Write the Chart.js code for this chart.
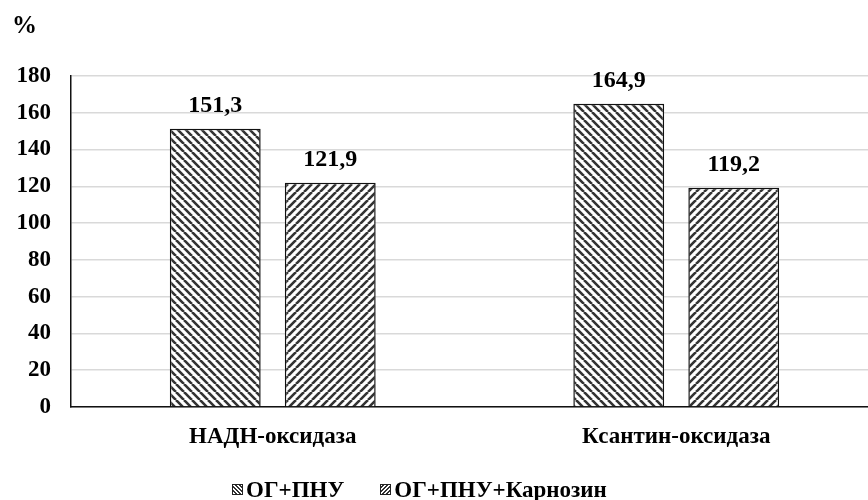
<!DOCTYPE html>
<html>
<head>
<meta charset="utf-8">
<script src="https://cdn.jsdelivr.net/npm/chart.js@4/dist/chart.umd.min.js"></script>
<style>
  html, body { margin: 0; padding: 0; background: #fff; overflow: hidden; }
  #wrap { position: relative; width: 880px; height: 500px; }
  #legend { position: absolute; left: 232px; top: 477px; font: bold 23px "Liberation Serif", serif; color: #000; white-space: nowrap; }
  #legend span.item { display: inline-block; margin-right: 36px; }
  #legend i { display: inline-block; width: 9px; height: 9px; border: 1px solid #222; margin-right: 3px; vertical-align: 2px; }
  .s1 { background: repeating-linear-gradient(45deg, #fff 0 1.5px, #333 1.5px 3px); }
  .s2 { background: repeating-linear-gradient(-45deg, #fff 0 1.5px, #333 1.5px 3px); }
</style>
</head>
<body>
<div id="wrap">
  <canvas id="chart" width="880" height="500"></canvas>
  <div id="legend"></div>
</div>
<script>
// === ДАННЫЕ ===
const categories = ['НАДН-оксидаза', 'Ксантин-оксидаза'];
const seriesNames = ['ОГ+ПНУ', 'ОГ+ПНУ+Карнозин'];
const valuesOgPnu = [151.3, 164.9];
const valuesOgPnuCarn = [121.9, 119.2];
const yTicks = [0, 20, 40, 60, 80, 100, 120, 140, 160, 180];

const FONT = '"Liberation Serif", "Times New Roman", serif';

// штриховка для столбцов
function makeHatch(dir) {
    const s = 8;
    const c = document.createElement('canvas');
    c.width = s; c.height = s;
    const g = c.getContext('2d');
    g.fillStyle = '#fff';
    g.fillRect(0, 0, s, s);
    g.strokeStyle = '#333';
    g.lineWidth = 2.6;
    g.beginPath();
    for (let x = -s; x <= s; x += s) {
        if (dir === 'down') { g.moveTo(x, 0); g.lineTo(x + s, s); }
        else { g.moveTo(x, s); g.lineTo(x + s, 0); }
    }
    g.stroke();
    return g.createPattern(c, 'repeat');
}

const valueLabels = {
    id: 'valueLabels',
    afterDatasetsDraw(chart) {
        const ctx = chart.ctx;
        ctx.save();
        ctx.fillStyle = '#000';
        ctx.font = 'bold 24px ' + FONT;
        ctx.textAlign = 'center';
        ctx.textBaseline = 'alphabetic';
        chart.data.datasets.forEach((ds, i) => {
            chart.getDatasetMeta(i).data.forEach((bar, j) => {
                ctx.fillText(ds.data[j].toFixed(1).replace('.', ','), bar.x, bar.y - 17);
            });
        });
        ctx.restore();
    }
};

const ctx = document.getElementById('chart').getContext('2d');
new Chart(ctx, {
    type: 'bar',
    data: {
        labels: categories,
        datasets: [
            { label: seriesNames[0], data: valuesOgPnu, backgroundColor: makeHatch('down'), borderColor: '#111', borderWidth: 1.5 },
            { label: seriesNames[1], data: valuesOgPnuCarn, backgroundColor: makeHatch('up'), borderColor: '#111', borderWidth: 1.5 }
        ]
    },
    options: {
        responsive: false,
        animation: false,
        categoryPercentage: 0.57,
        barPercentage: 0.79,
        layout: { padding: { left: 12, right: 2, top: 0, bottom: 49 } },
        plugins: {
            legend: { display: false },
            tooltip: { enabled: false },
            title: {
                display: true, text: '%', align: 'start', color: '#000',
                font: { family: FONT, size: 25, weight: 'bold' },
                padding: { top: 12, bottom: 34 }
            }
        },
        scales: {
            x: {
                afterFit: s => { s.height = 44; },
                grid: { display: false, drawTicks: false },
                border: { display: true, color: '#111', width: 1.5 },
                ticks: { color: '#000', padding: 16, font: { family: FONT, size: 23, weight: 'bold' } }
            },
            y: {
                min: 0, max: 180,
                afterFit: s => { s.width = 59; },
                afterBuildTicks: s => { s.ticks = yTicks.map(v => ({ value: v })); },
                grid: { color: '#d9d9d9', lineWidth: 1.5, drawTicks: false },
                border: { display: true, color: '#111', width: 1.5 },
                ticks: { color: '#000', padding: 20, font: { family: FONT, size: 23, weight: 'bold' } }
            }
        }
    },
    plugins: [valueLabels]
});

// легенда
document.getElementById('legend').innerHTML = seriesNames.map((n, i) =>
    `<span class="item"><i class="s${i + 1}"></i>${n}</span>`).join('');
</script>
</body>
</html>
